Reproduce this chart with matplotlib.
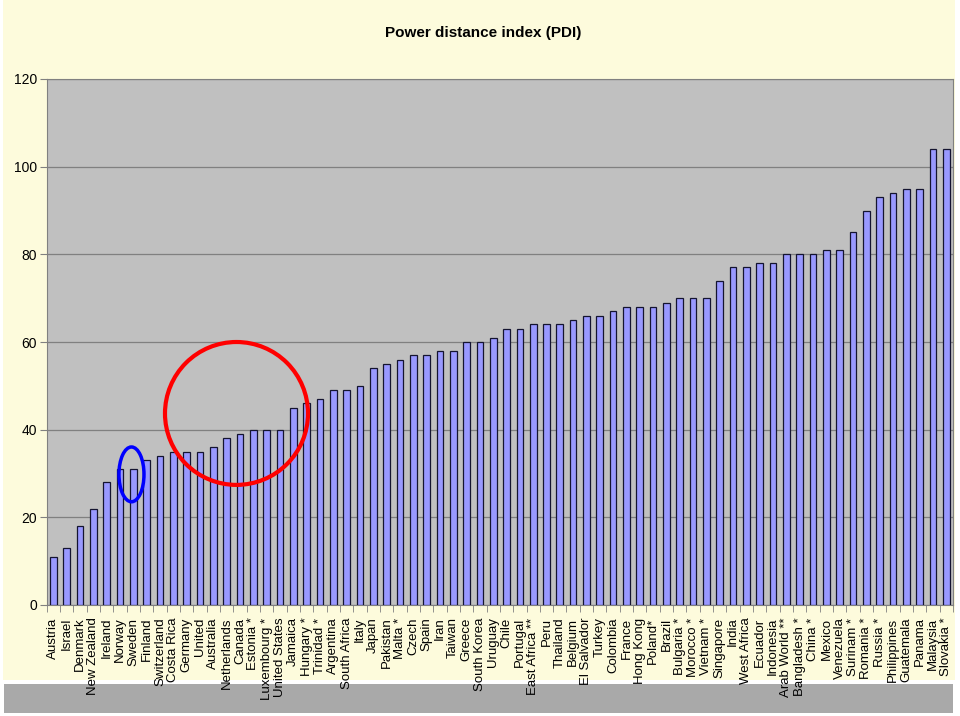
import matplotlib
matplotlib.use("Agg")
import matplotlib.pyplot as plt
from matplotlib.patches import Ellipse, Rectangle

countries = ["Austria", "Israel", "Denmark", "New Zealand", "Ireland", "Norway", "Sweden",
             "Finland", "Switzerland", "Costa Rica", "Germany", "United", "Australia",
             "Netherlands", "Canada", "Estonia *", "Luxembourg *", "United States", "Jamaica",
             "Hungary *", "Trinidad *", "Argentina", "South Africa", "Italy", "Japan",
             "Pakistan", "Malta *", "Czech", "Spain", "Iran", "Taiwan", "Greece",
             "South Korea", "Uruguay", "Chile", "Portugal", "East Africa **", "Peru",
             "Thailand", "Belgium", "El Salvador", "Turkey", "Colombia", "France",
             "Hong Kong", "Poland*", "Brazil", "Bulgaria *", "Morocco *", "Vietnam *",
             "Singapore", "India", "West Africa", "Ecuador", "Indonesia", "Arab World **",
             "Bangladesh *", "China *", "Mexico", "Venezuela", "Surinam *", "Romania *",
             "Russia *", "Philippines", "Guatemala", "Panama", "Malaysia", "Slovakia *"]
pdi = [11, 13, 18, 22, 28, 31, 31, 33, 34, 35, 35, 35, 36, 38, 39, 40, 40, 40, 45,
       46, 47, 49, 49, 50, 54, 55, 56, 57, 57, 58, 58, 60, 60, 61, 63, 63, 64, 64,
       64, 65, 66, 66, 67, 68, 68, 68, 69, 70, 70, 70, 74, 77, 77, 78, 78, 80, 80,
       80, 81, 81, 85, 90, 93, 94, 95, 95, 104, 104]
y_ticks = [0, 20, 40, 60, 80, 100, 120]

plt.rcParams['font.family'] = ['Liberation Sans', 'DejaVu Sans']

W, H = 960, 716
fig = plt.figure(figsize=(W / 100, H / 100), dpi=100, facecolor='white')

# background panels
fig.patches.append(Rectangle((3 / W, 1 - 680 / H), 952 / W, 680 / H,
                             transform=fig.transFigure, facecolor='#fdfbdc',
                             edgecolor='none', zorder=-10))
fig.patches.append(Rectangle((4 / W, 1 - 713 / H), 949 / W, 29 / H,
                             transform=fig.transFigure, facecolor='#a9a9a9',
                             edgecolor='none', zorder=-10))

left, right, top, bottom = 46.7, 953, 79, 605
ax = fig.add_axes([left / W, 1 - bottom / H, (right - left) / W, (bottom - top) / H])
ax.set_facecolor('#c0c0c0')

x = list(range(len(countries)))
ax.bar(x, pdi, width=0.5, color='#9999ff', edgecolor='#141430', linewidth=0.9, zorder=3)

ax.set_xlim(-0.5, len(countries) - 0.5)
ax.set_ylim(0, 120)
ax.set_yticks(y_ticks)
ax.set_yticklabels([str(v) for v in y_ticks], fontsize=10)
ax.yaxis.grid(True, color='#808080', linewidth=0.9, zorder=1)
ax.tick_params(axis='y', length=5, color='#808080', pad=2)

ax.set_xticks(x)
ax.set_xticklabels(countries, rotation=90, fontsize=9.5, va='top', ha='center')
ax.set_xticks([i + 0.5 for i in range(-1, len(countries))], minor=True)
ax.tick_params(axis='x', which='major', length=0, pad=9)
ax.tick_params(axis='x', which='minor', length=5, color='#808080')

for side in ['left', 'bottom', 'top', 'right']:
    ax.spines[side].set_color('#808080')

fig.text(483 / W, 1 - 33 / H, "Power distance index (PDI)", ha='center', va='center',
         fontsize=11, fontweight='bold')

# annotation ellipses
ax.add_patch(Ellipse((13.74, 43.7), 10.73, 32.6, fill=False, edgecolor='#ff0000',
                     linewidth=3, zorder=5, clip_on=False))
ax.add_patch(Ellipse((5.86, 29.8), 1.88, 12.5, fill=False, edgecolor='#0000ff',
                     linewidth=2.5, zorder=5, clip_on=False))

fig.savefig('out.png', dpi=100, facecolor=fig.get_facecolor())
